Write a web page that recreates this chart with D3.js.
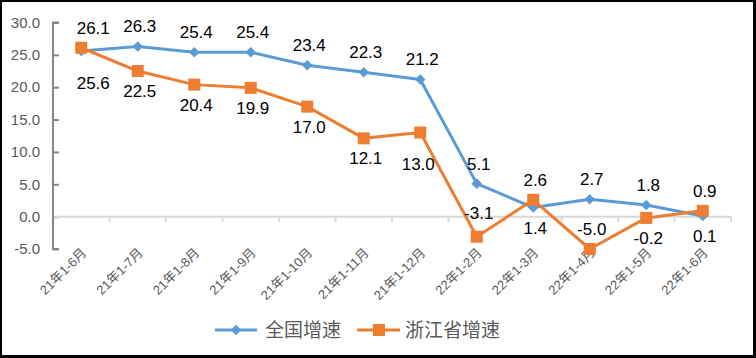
<!DOCTYPE html>
<html>
<head>
<meta charset="utf-8">
<script src="https://cdn.jsdelivr.net/npm/d3@7"></script>
<style>
  html, body { margin: 0; padding: 0; background: #fff; }
  svg { display: block; }
</style>
</head>
<body>
<svg id="chart" width="756" height="358"></svg>
<script>
const categories = ["21年1-6月","21年1-7月","21年1-8月","21年1-9月","21年1-10月","21年1-11月","21年1-12月","22年1-2月","22年1-3月","22年1-4月","22年1-5月","22年1-6月"];
const nationalValues = [25.6, 26.3, 25.4, 25.4, 23.4, 22.3, 21.2, 5.1, 1.4, 2.7, 1.8, 0.1];
const zhejiangValues = [26.1, 22.5, 20.4, 19.9, 17.0, 12.1, 13.0, -3.1, 2.6, -5.0, -0.2, 0.9];
const yTicks = [-5, 0, 5, 10, 15, 20, 25, 30];
const seriesNames = ["全国增速", "浙江省增速"];
// label placement: "a" above, "b" below, "bb" far below
const nationalLabelPos = ["bb","a","a","a","a","a","a","a","b","a","a","b"];
const zhejiangLabelPos = ["a","b","b","b","b","b","bb","aa","a","a","b","a"];

const blue = "#5B9BD5", orange = "#ED7D31";
const svg = d3.select("#chart");
const fmt = v => d3.format(".1f")(v).replace("\u2212", "-");

// frame
svg.append("rect").attr("x", 0).attr("y", 0).attr("width", 756).attr("height", 358).attr("fill", "#000");
svg.append("rect").attr("x", 2).attr("y", 2).attr("width", 751).attr("height", 353).attr("fill", "#fff");

const x = d3.scaleBand().domain(categories).range([53, 731]);
const y = d3.scaleLinear().domain([-5, 30]).range([249, 22.5]);
const cx = d => x(d) + x.bandwidth() / 2;

// y axis
const yAxis = svg.append("g").attr("transform", "translate(53,0)")
  .call(d3.axisRight(y).tickValues(yTicks).tickSize(6).tickFormat(""));
yAxis.select(".domain").attr("stroke", "#868686").attr("stroke-width", 2).attr("d", `M6,${y(-5)}H0V${y(30)}H6`);
yAxis.selectAll(".tick line").attr("stroke", "#868686").attr("stroke-width", 2);

svg.append("g").selectAll("text").data(yTicks).join("text")
  .attr("x", 40).attr("y", d => y(d)).attr("dy", "0.35em")
  .attr("text-anchor", "end")
  .attr("font-family", "Liberation Sans, Arial, sans-serif").attr("font-size", 15)
  .attr("fill", "#595959")
  .text(d => fmt(d));

// x axis at zero
const xAxis = svg.append("g").attr("transform", `translate(0,${y(0)})`)
  .call(d3.axisBottom(x).tickSize(0).tickFormat(""));
xAxis.select(".domain").attr("stroke", "#d9d9d9").attr("stroke-width", 2).attr("d", `M54,0H731`);
svg.append("g").selectAll("line").data(d3.range(1, categories.length + 1)).join("line")
  .attr("x1", i => 53 + i * x.step()).attr("x2", i => 53 + i * x.step())
  .attr("y1", y(0)).attr("y2", y(0) + 5)
  .attr("stroke", "#d9d9d9").attr("stroke-width", 2);

svg.append("g").selectAll("text").data(categories).join("text")
  .attr("transform", d => `translate(${cx(d) + 6},${y(0) + 37}) rotate(-45)`)
  .attr("text-anchor", "end")
  .attr("font-family", "Liberation Sans, 'Noto Sans CJK SC', sans-serif").attr("font-size", 13)
  .attr("fill", "#595959")
  .text(d => d);

// lines
const line = d3.line().x((d, i) => cx(categories[i])).y(d => y(d));
svg.append("path").datum(nationalValues).attr("d", line)
  .attr("fill", "none").attr("stroke", blue).attr("stroke-width", 3).attr("stroke-linejoin", "round");
svg.append("path").datum(zhejiangValues).attr("d", line)
  .attr("fill", "none").attr("stroke", orange).attr("stroke-width", 3).attr("stroke-linejoin", "round");

svg.append("g").selectAll("path").data(nationalValues).join("path")
  .attr("d", d3.symbol().type(d3.symbolSquare).size(56))
  .attr("transform", (d, i) => `translate(${cx(categories[i])},${y(d)}) rotate(45)`)
  .attr("fill", blue);
svg.append("g").selectAll("rect").data(zhejiangValues).join("rect")
  .attr("x", (d, i) => cx(categories[i]) - 6).attr("y", d => y(d) - 6)
  .attr("width", 12).attr("height", 12).attr("fill", orange);

// data labels
const offs = { a: -20, aa: -24, b: 20, bb: 32 };
function labels(vals, pos) {
  svg.append("g").selectAll("text").data(vals).join("text")
    .attr("x", (d, i) => cx(categories[i]) + (i === 0 ? 12 : pos[i] === "bb" ? -2 : 2))
    .attr("y", (d, i) => y(d) + offs[pos[i]])
    .attr("dy", "0.35em")
    .attr("text-anchor", "middle")
    .attr("font-family", "Liberation Sans, Arial, sans-serif").attr("font-size", 17)
    .attr("fill", "#000")
    .text(d => fmt(d));
}
labels(nationalValues, nationalLabelPos);
labels(zhejiangValues, zhejiangLabelPos);

// legend
const lg = svg.append("g");
lg.append("line").attr("x1", 215).attr("x2", 257).attr("y1", 330).attr("y2", 330).attr("stroke", blue).attr("stroke-width", 3);
lg.append("path").attr("d", d3.symbol().type(d3.symbolSquare).size(56)).attr("transform", "translate(236,330) rotate(45)").attr("fill", blue);
lg.append("text").attr("x", 265).attr("y", 330).attr("dy", "0.35em")
  .attr("font-family", "'Noto Sans CJK SC', sans-serif").attr("font-size", 19).attr("fill", "#595959").text(seriesNames[0]);
lg.append("line").attr("x1", 357).attr("x2", 400).attr("y1", 330).attr("y2", 330).attr("stroke", orange).attr("stroke-width", 3);
lg.append("rect").attr("x", 373).attr("y", 324).attr("width", 12).attr("height", 12).attr("fill", orange);
lg.append("text").attr("x", 405).attr("y", 330).attr("dy", "0.35em")
  .attr("font-family", "'Noto Sans CJK SC', sans-serif").attr("font-size", 19).attr("fill", "#595959").text(seriesNames[1]);
</script>
</body>
</html>
